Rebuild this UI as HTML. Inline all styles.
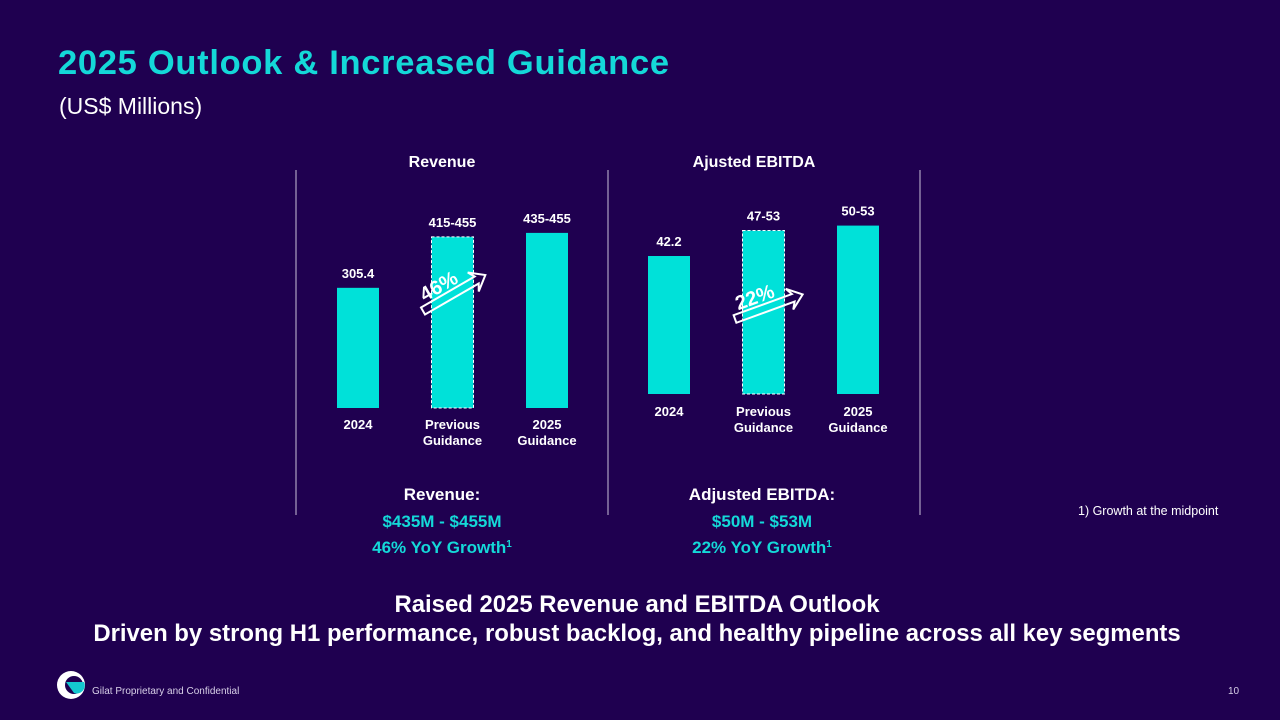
<!DOCTYPE html>
<html><head><meta charset="utf-8"><style>
body{margin:0;width:1280px;height:720px;background:#1f0050;overflow:hidden;font-family:"Liberation Sans",Arial,sans-serif;position:relative}
.t{position:absolute;white-space:nowrap}
sup{font-size:10px;line-height:0;vertical-align:6px}
</style></head><body>
<div class="t" style="left:58px;top:44px;font-size:34.5px;font-weight:bold;color:#14d8d8;letter-spacing:0.7px">2025 Outlook &amp; Increased Guidance</div>
<div class="t" style="left:59px;top:93px;font-size:23px;color:#fff">(US$ Millions)</div>
<svg id="c" width="1280" height="720" style="position:absolute;left:0;top:0" font-family="Liberation Sans, Arial, sans-serif"></svg>
<div class="t" style="left:352px;width:180px;top:482px;text-align:center;font-size:17px;font-weight:bold;line-height:26.5px;color:#fff">Revenue:<br><span style="color:#14d8d8">$435M - $455M<br>46% YoY Growth<sup>1</sup></span></div>
<div class="t" style="left:652px;width:220px;top:482px;text-align:center;font-size:17px;font-weight:bold;line-height:26.5px;color:#fff">Adjusted EBITDA:<br><span style="color:#14d8d8">$50M - $53M<br>22% YoY Growth<sup>1</sup></span></div>
<div class="t" style="left:1078px;top:504px;font-size:12.5px;color:#fff">1) Growth at the midpoint</div>
<div class="t" style="left:0;width:1274px;top:590px;text-align:center;font-size:23.9px;font-weight:bold;line-height:29px;color:#fff">Raised 2025 Revenue and EBITDA Outlook<br>Driven by strong H1 performance, robust backlog, and healthy pipeline across all key segments</div>
<svg style="position:absolute;left:56px;top:670px" width="32" height="32"><circle cx="15" cy="15" r="14" fill="#fff"/><circle cx="18" cy="15" r="9" fill="#1f0050"/><path d="M10 12 h18 a8 8 0 0 1 -10 11 z" fill="#14c8d0"/></svg>
<div class="t" style="left:92px;top:686px;font-size:10px;color:#d8d0e8">Gilat Proprietary and Confidential</div>
<div class="t" style="left:1228px;top:686px;font-size:10px;color:#d8d0e8">10</div>
<script>
const revCats=["2024","Previous|Guidance","2025|Guidance"];
const revVals=[305.4,435,445];
const revLabels=["305.4","415-455","435-455"];
const ebCats=["2024","Previous|Guidance","2025|Guidance"];
const ebVals=[42.2,50,51.5];
const ebLabels=["42.2","47-53","50-53"];
const NS="http://www.w3.org/2000/svg",svg=document.getElementById('c');
function mk(t,a,p){const e=document.createElementNS(NS,t);for(const k in a)e.setAttribute(k,a[k]);(p||svg).appendChild(e);return e;}
function txt(x,y,s,sz,name){const e=mk('text',{x:x,y:y,'text-anchor':'middle','font-size':sz,'font-weight':'bold',fill:'#fff'});e.textContent=s;

return e;}
[296,608,920].forEach(x=>{const l=mk('line',{x1:x,y1:170,x2:x,y2:515,stroke:'#c8c0d8','stroke-width':1});

});
function chart(title,tx,cats,vals,labels,x0,base,scale,catY,arrow){
 txt(tx,167,title,16,'chart-title');
 cats.forEach((c,i)=>{const cx=x0+i*94.5,h=vals[i]*scale,y=base-h;
  const r=mk('rect',{x:cx-21,y:y,width:42,height:h,fill:'#00e1d9'});
  if(i==1){r.setAttribute('stroke','#fff');r.setAttribute('stroke-dasharray','3,2');r.setAttribute('stroke-width','1');}
  
  
  txt(cx,y-10,labels[i],13,'value-label');
  c.split('|').forEach((s,j)=>txt(cx,catY+j*16,s,13,'category-label'));
 });
 const g=mk('g',{transform:`translate(${arrow[0]},${arrow[1]}) rotate(${arrow[2]})`});
 
 
 mk('path',{d:'M0,-4 L62,-4 L58,-11 L72,0 L58,11 L62,4 L0,4 Z',fill:'none',stroke:'#fff','stroke-width':2},g);
 const t=mk('text',{x:26,y:-7,'text-anchor':'middle','font-size':20,'font-weight':'bold',fill:'#fff'},g);t.textContent=arrow[3];
}
chart('Revenue',442,revCats,revVals,revLabels,358,408,0.3935,429,[423,311,-30,'46%']);
chart('Ajusted EBITDA',754,ebCats,ebVals,ebLabels,669,394,3.27,416,[735,319,-20,'22%']);
</script>
</body></html>
